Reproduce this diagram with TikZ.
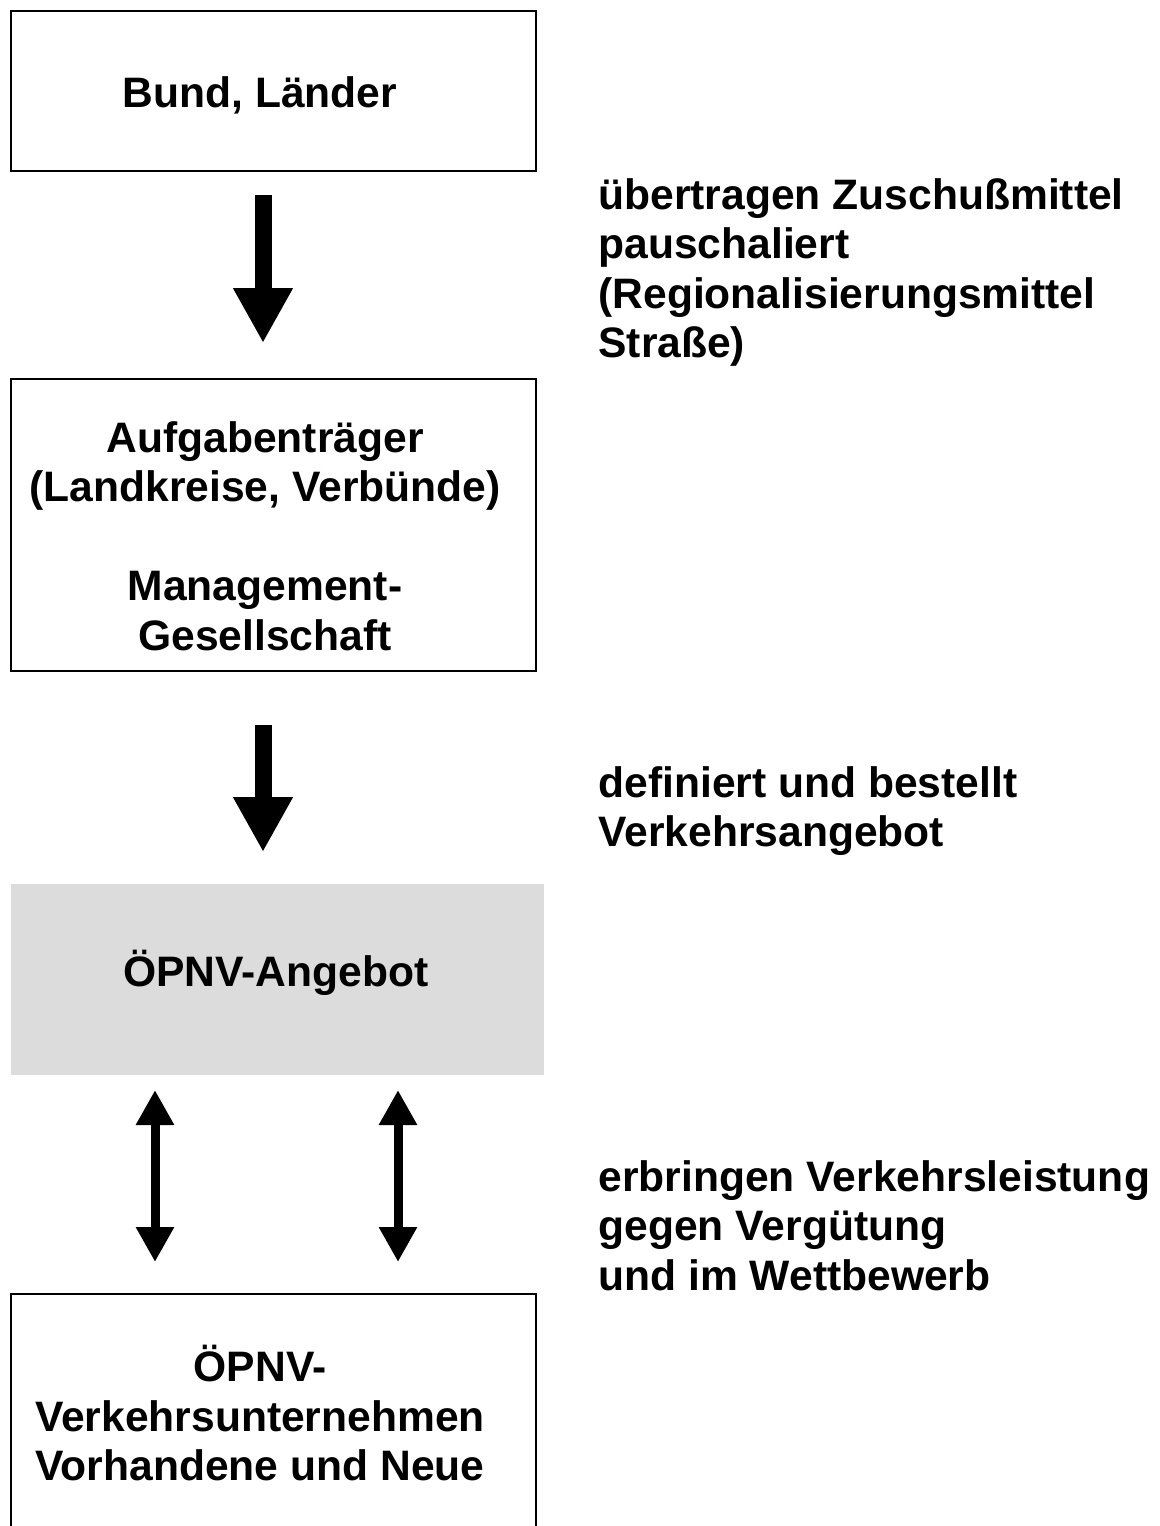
\documentclass[tikz,border=0pt]{standalone}
\usepackage{fontspec}
\setmainfont{Liberation Sans}
\usetikzlibrary{arrows.meta}

\definecolor{offergray}{RGB}{220,220,220}

\begin{document}
\begin{tikzpicture}[x=0.5pt,y=-0.5pt,
    every node/.style={font=\bfseries\fontsize{21.3}{24.7}\selectfont},
    box/.style={draw, line width=1pt, anchor=north west, minimum width=262.5pt, align=center},
    boxtext/.style={align=center, inner sep=0pt},
    bigarrow/.style={line width=8.5pt, -{Triangle[width=28pt,length=27.5pt]}},
    twoway/.style={line width=4.5pt, {Triangle[width=18pt,length=17.5pt]}-{Triangle[width=18pt,length=17.5pt]}},
    note/.style={anchor=north west, inner sep=0pt, align=left}]
        \useasboundingbox (0,0) rectangle (1160,1526);
        \clip (0,0) rectangle (1160,1526);

        % Boxes
        \node[box, minimum height=80pt] (bund) at (10,10) {};
        \node[boxtext] (bundtext) at (260,95) {Bund, Länder};
        \node[box, minimum height=146pt] (traeger) at (10,378) {};
        \node[boxtext] (traegertext) at (265,536)
            {Aufgabenträger\\(Landkreise, Verbünde)\\[24.7pt]Management-\\Gesellschaft};
        \node[box, draw=none, fill=offergray, minimum width=266.5pt, minimum height=95.5pt] (angebot) at (10,883) {};
        \node[boxtext] (angebottext) at (276,973) {ÖPNV-Angebot};
        \node[box, minimum height=125pt] (unternehmen) at (10,1293) {};
        \node[boxtext] (unternehmentext) at (260,1413)
            {ÖPNV-\\Verkehrsunternehmen\\Vorhandene und Neue};

        % Draw arrows
        \draw[bigarrow] ([xshift=-5.25pt,yshift=-11.5pt]bund.south) -- ([xshift=-5.25pt,yshift=17.5pt]traeger.north);
        \draw[bigarrow] ([xshift=-5.25pt,yshift=-26.5pt]traeger.south) -- ([xshift=-7.25pt,yshift=15.5pt]angebot.north);

        \foreach \dx in {72.5,194}
            \draw[twoway] ([xshift=\dx pt,yshift=-7pt]angebot.south west) -- ([xshift=\dx pt,yshift=15.5pt]unternehmen.north west);

        % Notes on the right
        \node[note] (mittel) at (598,178)
            {übertragen Zuschußmittel\\pauschaliert\\(Regionalisierungsmittel\\Straße)};
        \node[note] (bestellt) at (598,766) {definiert und bestellt\\Verkehrsangebot};
        \node[note] (leistung) at (598,1160)
            {erbringen Verkehrsleistung\\gegen Vergütung\\und im Wettbewerb};

    \end{tikzpicture}
\end{document}
